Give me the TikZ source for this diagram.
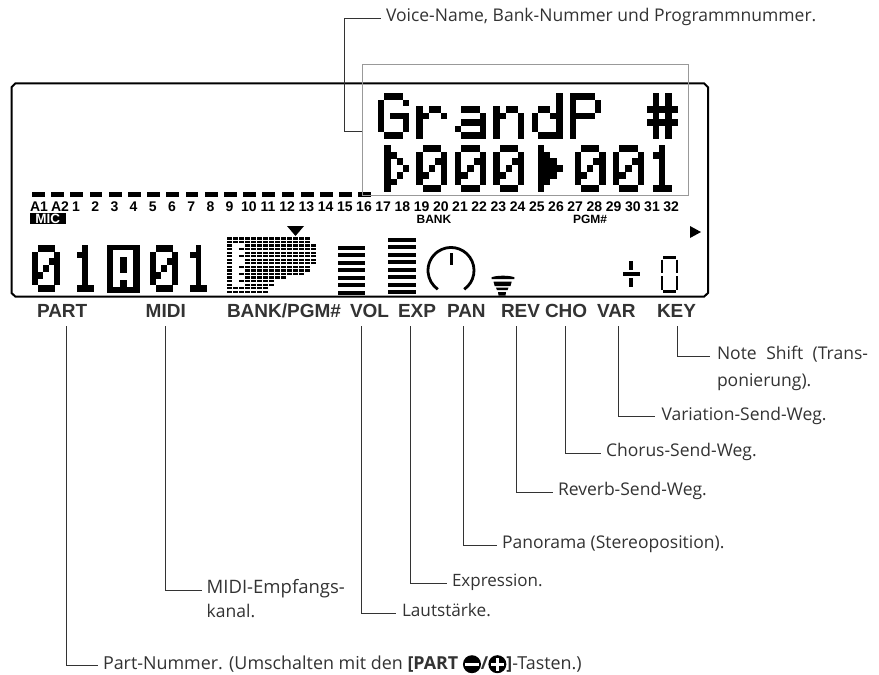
\documentclass[tikz,border=0pt]{standalone}
\usepackage{fontspec}
\setmainfont{Open Sans}
\newfontfamily\lblfont{Liberation Sans}
\definecolor{ink}{HTML}{333333}
\newcount\dmr \newcount\dmc
\def\dmscan#1{\ifx#1\relax\else\if#1X\fill[black] ({\dmx+\the\dmc*\dmw},{\dmy+\the\dmr*\dmh}) rectangle ++({\dmw+0.15},{\dmh+0.15});\fi\global\advance\dmc by 1 \expandafter\dmscan\fi}
\newcommand\dmglyph[5]{\def\dmx{#1}\def\dmy{#2}\def\dmw{#3}\def\dmh{#4}\global\dmr=0 \foreach \rowstr in #5 {\global\dmc=0 \expandafter\dmscan\rowstr\relax\global\advance\dmr by 1 }}
\def\gG{oXXXo,XoooX,Xoooo,XoXXX,XoooX,XoooX,oXXXo}
\def\gr{ooooo,ooooo,XoXXo,XXooX,Xoooo,Xoooo,Xoooo}
\def\ga{ooooo,ooooo,oXXXo,ooooX,oXXXX,XoooX,oXXXX}
\def\gn{ooooo,ooooo,XoXXo,XXooX,XoooX,XoooX,XoooX}
\def\gd{ooooX,ooooX,oXXoX,XooXX,XoooX,XoooX,oXXXX}
\def\gP{XXXXo,XoooX,XoooX,XXXXo,Xoooo,Xoooo,Xoooo}
\def\gH{oXoXo,oXoXo,XXXXX,oXoXo,XXXXX,oXoXo,oXoXo}
\def\gz{oXXXo,XoooX,XooXX,XoXoX,XXooX,XoooX,oXXXo}
\def\gi{ooXoo,oXXoo,ooXoo,ooXoo,ooXoo,ooXoo,oXXXo}
\def\gto{oXooo,oXXoo,oXoXo,oXooX,oXoXo,oXXoo,oXooo}
\def\gts{oXooo,oXXoo,oXXXo,oXXXX,oXXXo,oXXoo,oXooo}
\newcommand\minusdot{\tikz[x=1pt,y=1pt,baseline=0pt]{\fill[black] (9.5,5) circle[radius=9pt];\fill[white] (2.5,3.6) rectangle (16.5,6.4);}}
\newcommand\plusdot{\tikz[x=1pt,y=1pt,baseline=0pt]{\fill[black] (9.5,5) circle[radius=9pt];\fill[white] (3,3.6) rectangle (16,6.4);\fill[white] (8.1,-1.5) rectangle (10.9,11.5);}}
\tikzset{
  every node/.style={inner sep=0pt,outer sep=0pt},
  lbl/.style={font=\lblfont\bfseries\fontsize{19}{19}\selectfont,text=ink,anchor=base west},
  num/.style={font=\lblfont\bfseries\fontsize{14}{14}\selectfont,text=black,anchor=base},
  tiny/.style={font=\lblfont\bfseries\fontsize{12}{12}\selectfont,anchor=base},
  note/.style={font=\fontsize{17.5}{17.5}\selectfont,text=ink,anchor=west,text height=8pt,text depth=1pt,inner xsep=5pt},
  noteb/.style={font=\fontsize{17.5}{17.5}\selectfont,text=ink,anchor=base west,inner xsep=5pt},
  lead/.style={draw=ink,line width=0.9pt},
}
\begin{document}
\begin{tikzpicture}[x=1pt,y=-1pt]
\useasboundingbox (0,0) rectangle (879,675);
\fill[white] (0,0) rectangle (879,675);
% LCD frame
\draw[black,line width=2pt] (15.5,83.3) -- (704,83.3) -- (708,87.3) -- (708,293) -- (704,296.7) -- (15.5,296.7) -- (11.5,293) -- (11.5,87.3) -- cycle;
% dot-matrix text, top row
\dmglyph{378}{93}{6.2}{6.55}{\gG}
\dmglyph{416.3}{93}{6.2}{6.55}{\gr}
\dmglyph{455}{93}{6.2}{6.55}{\ga}
\dmglyph{493.3}{93}{6.2}{6.55}{\gn}
\dmglyph{531.6}{93}{6.2}{6.55}{\gd}
\dmglyph{570}{93}{6.2}{6.55}{\gP}
\dmglyph{646.6}{93}{6.2}{6.55}{\gH}
% second row
\dmglyph{378}{145}{6.2}{6.7}{\gto}
\dmglyph{416.3}{145}{6.2}{6.7}{\gz}
\dmglyph{455}{145}{6.2}{6.7}{\gz}
\dmglyph{493.3}{145}{6.2}{6.7}{\gz}
\dmglyph{531.6}{145}{6.2}{6.7}{\gts}
\dmglyph{574.5}{145}{6.2}{6.7}{\gz}
\dmglyph{613}{145}{6.2}{6.7}{\gz}
\dmglyph{646.6}{145}{6.2}{6.7}{\gi}
% top segment bars
\foreach \i in {0,...,17} \fill[black] ({32+\i*19.2},192) rectangle ++(12.7,5);
% numbers
\node[num] (nA1) at (39,211) {A1};
\node[num] (nA2) at (60,211) {A2};
\foreach \i in {1,...,32} \node[num] (n\i) at ({76+(\i-1)*19.2},211) {\i};
\fill[black] (29.5,213) rectangle (66,224);
\node[tiny,text=white,font=\lblfont\bfseries\fontsize{13.5}{13.5}\selectfont] (mic) at (47.7,223.3) {MIC};
\node[tiny,text=black] (bank) at (434,223) {BANK};
\node[tiny,text=black] (pgm) at (590,223) {PGM\#};
\fill[black] (690,226) -- (701,232) -- (690,238) -- cycle;
\fill[black] (287,226) -- (304,226) -- (295.5,236) -- cycle;
% lower digits
\dmglyph{32}{245}{5.6}{6.67}{\gz}
\dmglyph{71}{245}{5.6}{6.67}{\gi}
\dmglyph{150}{245}{5.6}{6.67}{\gz}
\dmglyph{184.4}{245}{5.6}{6.67}{\gi}
\fill[black] (107,244.5) rectangle (140,292.5);
\fill[white] (113.3,250) rectangle (133.3,286.7);
\fill[black] (120,256.7) rectangle (126.7,273.3);
\fill[black] (120,280) rectangle (126.7,286.7);
% bank/program matrix
\foreach \r/\n in {0/13,1/13,2/14,3/14,4/14,5/14,6/14,7/14,8/13,9/13,10/12,11/9,12/7,13/7,14/6,15/6}
  \foreach \c in {0,...,\n} {
    \pgfmathsetmacro{\keep}{(\c==0)||(\r<2)||(\r>13)||(\c>2)||(\c==2&&(\r==3||\r==5||\r==8||\r==10||\r==12))}
    \ifdim\keep pt>0pt \fill[black] ({227+\c*6},{237.3+\r*3.56}) rectangle ++(5,2.2);\fi
  }
% VOL and EXP bars
\foreach \i in {0,...,6} \fill[black] (338,{245.7+\i*7.5}) rectangle ++(27,4);
\foreach \i in {0,...,7} \fill[black] (388,{238+\i*7.45}) rectangle ++(28,4);
% PAN
\draw[black,line width=2.8pt] (464.2,289.3) arc[start angle=-55,end angle=235,radius=23pt];
\fill[black] (449.7,252.7) rectangle (452.7,265);
% REV
\fill[black] (491.7,277.2) .. controls (497,275.2) and (509,275.2) .. (514.3,277.2) -- (514.3,279.2) -- (491.7,279.2) -- cycle;
\fill[black] (493.5,281.7) -- (511.7,281.7) -- (510.5,286) -- (494.7,286) -- cycle;
\fill[black] (496,287.5) -- (508.5,287.5) -- (507.5,290.2) -- (497,290.2) -- cycle;
\fill[black] (498,292) -- (506,292) -- (505.5,295.5) -- (498.5,295.5) -- cycle;
% KEY sign and value
\fill[black] (622.7,271.7) rectangle (640,275.7);
\fill[black] (629.3,261) rectangle (633.3,270);
\fill[black] (629.3,277.5) rectangle (633.3,286.7);
\draw[black,line width=2.6pt] (663,257.5) -- (676,257.5);
\draw[black,line width=2.6pt] (663,291.2) -- (676,291.2);
\draw[black,line width=2.6pt] (662,259.5) -- (662,273);
\draw[black,line width=2.6pt] (677,259.5) -- (677,273);
\draw[black,line width=2.6pt] (662,276) -- (662,289.5);
\draw[black,line width=2.6pt] (677,276) -- (677,289.5);
% highlight rectangle
\draw[gray!80,line width=1.2pt] (362.3,64.3) rectangle (688.7,195.7);
% bottom labels
\node[lbl] (part) at (37,317) {PART};
\node[lbl] (midi) at (145.7,317) {MIDI};
\node[lbl] (bpgm) at (227,317) {BANK/PGM\#};
\node[lbl] (vol) at (350,317) {VOL};
\node[lbl] (exp) at (398,317) {EXP};
\node[lbl] (pan) at (447,317) {PAN};
\node[lbl] (rev) at (501,317) {REV};
\node[lbl] (cho) at (545,317) {CHO};
\node[lbl] (var) at (597,317) {VAR};
\node[lbl] (key) at (657,317) {KEY};
% callout texts
\node[note] (tVoice) at (381,18.3) {Voice-Name, Bank-Nummer und Programmnummer.};
\node[note,font=\fontsize{17.9}{17.9}\selectfont] (tPart) at (98,665.7) {Part-Nummer. (Umschalten mit den \textbf{[PART \minusdot/\plusdot]}-Tasten.)};
\node[note,font=\fontsize{18.5}{18.5}\selectfont] (tMidi) at (201.7,590) {MIDI-Empfangs-};
\node[noteb] (tMidiB) at (201.7,617) {kanal.};
\node[note,font=\fontsize{17.2}{17.2}\selectfont,inner xsep=6pt] (tVol) at (396,613.3) {Lautstärke.};
\node[note,font=\fontsize{17}{17}\selectfont] (tExp) at (447,583.3) {Expression.};
\node[note] (tPan) at (497,545) {Panorama (Stereoposition).};
\node[note] (tRev) at (553,492) {Reverb-Send-Weg.};
\node[note] (tCho) at (601,453) {Chorus-Send-Weg.};
\node[note,inner xsep=6.5pt] (tVar) at (655,416.7) {Variation-Send-Weg.};
\node[note,inner xsep=7pt] (tKey) at (710,356) {Note\hspace{5pt} Shift\hspace{5pt} (Trans-};
\node[noteb,inner xsep=7pt] (tKeyB) at (710,386) {ponierung).};
% connector starts
\coordinate (sPart) at (66,326);
\coordinate (sMidi) at (165,326);
\coordinate (sVol) at (361.7,326);
\coordinate (sExp) at (410.7,326);
\coordinate (sPan) at (463.3,326);
\coordinate (sRev) at (516.7,326);
\coordinate (sCho) at (565.7,326);
\coordinate (sVar) at (618.3,326);
\coordinate (sKey) at (677.5,326);
\coordinate (sVoice) at (362.3,131);
\draw[lead] (sVoice) -| (344.7,18.3) -- (tVoice.west);
\draw[lead] (sPart) |- (tPart.west);
\draw[lead] (sMidi) |- (tMidi.west);
\draw[lead] (sVol) |- (tVol.west);
\draw[lead] (sExp) |- (tExp.west);
\draw[lead] (sPan) |- (tPan.west);
\draw[lead] (sRev) |- (tRev.west);
\draw[lead] (sCho) |- (tCho.west);
\draw[lead] (sVar) |- (tVar.west);
\draw[lead] (sKey) |- (tKey.west);
\end{tikzpicture}
\end{document}
